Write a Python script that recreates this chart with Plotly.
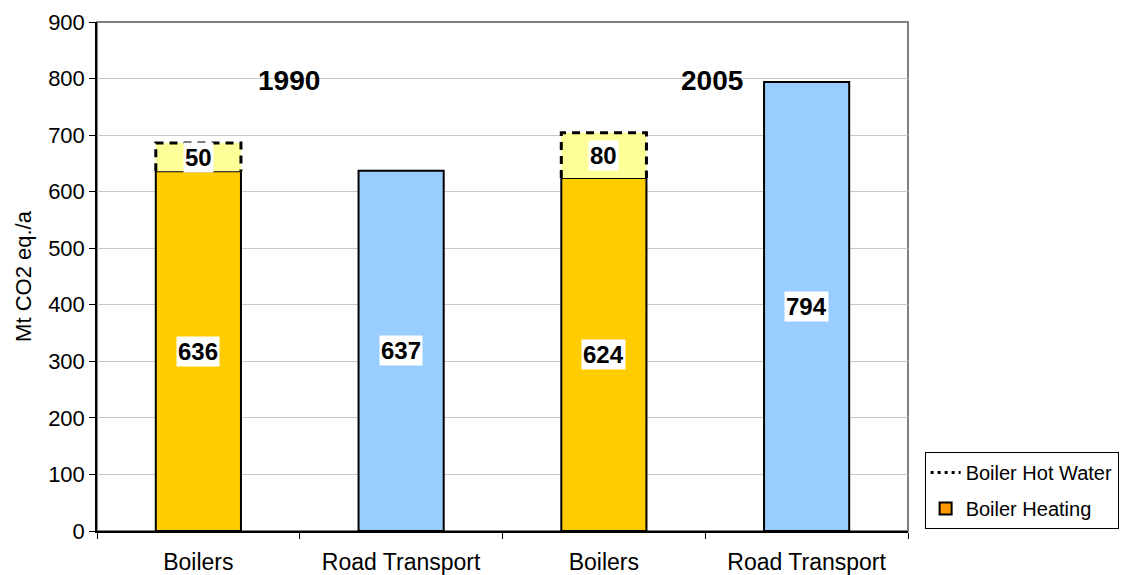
import plotly.graph_objects as go

categories = ["Boilers", "Road Transport", "Boilers", "Road Transport"]
positions = [0, 1, 2, 3]
boiler_heating = [636, None, 624, None]
road_transport = [None, 637, None, 794]
boiler_hot_water = [50, None, 80, None]
years = ["1990", "2005"]
year_pos = [0.445, 2.533]
year_y = 797
y_ticks = [0, 100, 200, 300, 400, 500, 600, 700, 800, 900]

FONT = "Liberation Sans, Arial, sans-serif"
BW = 0.42

fig = go.Figure()

fig.add_trace(go.Bar(
    x=positions, y=boiler_heating, width=BW, name="Boiler Heating",
    marker=dict(color="#FFCC00", line=dict(color="black", width=2)),
    showlegend=False, hoverinfo="y",
))
fig.add_trace(go.Bar(
    x=positions, y=road_transport, width=BW, name="Road Transport",
    marker=dict(color="#99CCFF", line=dict(color="black", width=2)),
    showlegend=False, hoverinfo="y",
))

# hot water stacked segments as filled outlines (dashed border)
for xi, base, val in zip(positions, boiler_heating, boiler_hot_water):
    if val is None:
        continue
    top = base + val
    fig.add_trace(go.Scatter(
        x=[xi - BW / 2, xi - BW / 2, xi + BW / 2, xi + BW / 2],
        y=[base, top, top, base],
        mode="lines", fill="toself", fillcolor="#FFFF99",
        line=dict(color="black", width=3, dash="8px,6px"),
        showlegend=False, hoverinfo="skip",
    ))

# legend entries (hot water listed first, as in the reference)
fig.add_trace(go.Scatter(
    x=[None], y=[None], name="Boiler Hot Water", mode="lines", legendgroup="hot",
    line=dict(color="black", width=3, dash="3px,4px"),
))
fig.add_trace(go.Bar(
    x=[None], y=[None], name="Boiler Heating", legendgroup="heat",
    marker=dict(color="#FF9900", line=dict(color="black", width=2)),
))

LABEL_FONT = dict(size=24, color="black", family=FONT)

# value labels
for xi, base, val in zip(positions, boiler_heating, boiler_hot_water):
    if base is not None:
        fig.add_annotation(x=xi, y=base / 2, xref="x", yref="y", text=f"<b>{base}</b>",
                           showarrow=False, bgcolor="white", borderpad=1, font=LABEL_FONT)
    if val is not None:
        fig.add_annotation(x=xi, y=base + val / 2, xref="x", yref="y", text=f"<b>{val}</b>",
                           showarrow=False, bgcolor="white", borderpad=1, font=LABEL_FONT)
for xi, val in zip(positions, road_transport):
    if val is not None:
        fig.add_annotation(x=xi, y=val / 2, xref="x", yref="y", text=f"<b>{val}</b>",
                           showarrow=False, bgcolor="white", borderpad=1, font=LABEL_FONT)

for yr, xp in zip(years, year_pos):
    fig.add_annotation(x=xp, y=year_y, xref="x", yref="y", text=f"<b>{yr}</b>",
                       showarrow=False, font=dict(size=28, color="black", family=FONT))

# plot area border (top/right grey)
fig.add_shape(type="rect", xref="paper", yref="paper", x0=0, x1=1, y0=0, y1=1,
              line=dict(color="#808080", width=2), layer="below")

fig.update_layout(
    width=1123, height=567,
    margin=dict(l=89, r=221, t=14, b=44),
    paper_bgcolor="white", plot_bgcolor="white",
    barmode="overlay",
    font=dict(family=FONT, size=22, color="black"),
    xaxis=dict(
        range=[-0.5, 3.5], tickmode="array",
        tickvals=[-0.5, 0.5, 1.5, 2.5, 3.5], ticktext=["", "", "", "", ""],
        ticks="outside", ticklen=6, tickcolor="black", tickwidth=1,
        showline=True, linecolor="black", linewidth=1.5,
        showgrid=False, zeroline=False, fixedrange=True, automargin=False,
    ),
    xaxis2=dict(
        overlaying="x", side="bottom", range=[-0.5, 3.5], matches="x",
        tickmode="array", tickvals=positions, ticktext=categories,
        ticks="", showline=False, showgrid=False, zeroline=False, automargin=False,
        ticklabelstandoff=15, tickfont=dict(size=23, family=FONT, color="black"),
    ),
    yaxis=dict(
        range=[0, 900], tickmode="array", tickvals=y_ticks,
        ticks="outside", ticklen=6, tickcolor="black",
        showline=True, linecolor="black", linewidth=1.5,
        showgrid=True, gridcolor="#C8C8C8", gridwidth=1, zeroline=False,
        automargin=False,
        tickfont=dict(size=22, family=FONT, color="black"),
        title=dict(text="Mt CO2 eq./a", font=dict(size=22, family=FONT, color="black"), standoff=10),
    ),
    legend=dict(
        x=1.0205, y=0.004, xanchor="left", yanchor="bottom",
        bordercolor="black", borderwidth=1, bgcolor="white",
        font=dict(size=20, family=FONT, color="black"),
        traceorder="grouped", itemwidth=30, tracegroupgap=7,
    ),
)

# invisible trace on xaxis2 so its category labels render
fig.add_trace(go.Scatter(x=[0], y=[0], xaxis="x2", mode="markers",
                         marker=dict(opacity=0), showlegend=False, hoverinfo="skip"))

fig.write_html("out.html")
